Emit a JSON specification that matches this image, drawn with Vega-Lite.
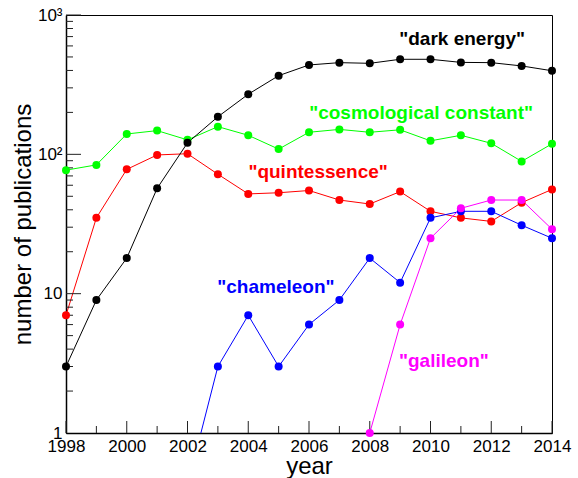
{
  "$schema": "https://vega.github.io/schema/vega-lite/v6.json",
  "width": 486,
  "height": 418,
  "autosize": "none",
  "padding": {"left": 66, "top": 15, "right": 26, "bottom": 45},
  "background": "white",
  "config": {
    "view": {"stroke": "#000", "strokeWidth": 1},
    "font": "Liberation Sans"
  },
  "datasets": {
    "pubs": [
      {"series": "cosmological constant", "year": 1998, "count": 77},
      {"series": "cosmological constant", "year": 1999, "count": 84},
      {"series": "cosmological constant", "year": 2000, "count": 140},
      {"series": "cosmological constant", "year": 2001, "count": 148},
      {"series": "cosmological constant", "year": 2002, "count": 127},
      {"series": "cosmological constant", "year": 2003, "count": 158},
      {"series": "cosmological constant", "year": 2004, "count": 137},
      {"series": "cosmological constant", "year": 2005, "count": 109},
      {"series": "cosmological constant", "year": 2006, "count": 144},
      {"series": "cosmological constant", "year": 2007, "count": 151},
      {"series": "cosmological constant", "year": 2008, "count": 144},
      {"series": "cosmological constant", "year": 2009, "count": 150},
      {"series": "cosmological constant", "year": 2010, "count": 125},
      {"series": "cosmological constant", "year": 2011, "count": 137},
      {"series": "cosmological constant", "year": 2012, "count": 120},
      {"series": "cosmological constant", "year": 2013, "count": 89},
      {"series": "cosmological constant", "year": 2014, "count": 119},
      {"series": "quintessence", "year": 1998, "count": 7},
      {"series": "quintessence", "year": 1999, "count": 35},
      {"series": "quintessence", "year": 2000, "count": 78},
      {"series": "quintessence", "year": 2001, "count": 99},
      {"series": "quintessence", "year": 2002, "count": 101},
      {"series": "quintessence", "year": 2003, "count": 72},
      {"series": "quintessence", "year": 2004, "count": 52},
      {"series": "quintessence", "year": 2005, "count": 53},
      {"series": "quintessence", "year": 2006, "count": 55},
      {"series": "quintessence", "year": 2007, "count": 47},
      {"series": "quintessence", "year": 2008, "count": 44},
      {"series": "quintessence", "year": 2009, "count": 54},
      {"series": "quintessence", "year": 2010, "count": 39},
      {"series": "quintessence", "year": 2011, "count": 35},
      {"series": "quintessence", "year": 2012, "count": 33},
      {"series": "quintessence", "year": 2013, "count": 45},
      {"series": "quintessence", "year": 2014, "count": 56},
      {"series": "chameleon", "year": 2002, "count": 0.42},
      {"series": "chameleon", "year": 2003, "count": 3},
      {"series": "chameleon", "year": 2004, "count": 7},
      {"series": "chameleon", "year": 2005, "count": 3},
      {"series": "chameleon", "year": 2006, "count": 6},
      {"series": "chameleon", "year": 2007, "count": 9},
      {"series": "chameleon", "year": 2008, "count": 18},
      {"series": "chameleon", "year": 2009, "count": 12},
      {"series": "chameleon", "year": 2010, "count": 35},
      {"series": "chameleon", "year": 2011, "count": 39},
      {"series": "chameleon", "year": 2012, "count": 39},
      {"series": "chameleon", "year": 2013, "count": 31},
      {"series": "chameleon", "year": 2014, "count": 25},
      {"series": "galileon", "year": 2008, "count": 1},
      {"series": "galileon", "year": 2009, "count": 6},
      {"series": "galileon", "year": 2010, "count": 25},
      {"series": "galileon", "year": 2011, "count": 41},
      {"series": "galileon", "year": 2012, "count": 47},
      {"series": "galileon", "year": 2013, "count": 47},
      {"series": "galileon", "year": 2014, "count": 29},
      {"series": "dark energy", "year": 1998, "count": 3},
      {"series": "dark energy", "year": 1999, "count": 9},
      {"series": "dark energy", "year": 2000, "count": 18},
      {"series": "dark energy", "year": 2001, "count": 57},
      {"series": "dark energy", "year": 2002, "count": 121},
      {"series": "dark energy", "year": 2003, "count": 186},
      {"series": "dark energy", "year": 2004, "count": 270},
      {"series": "dark energy", "year": 2005, "count": 367},
      {"series": "dark energy", "year": 2006, "count": 438},
      {"series": "dark energy", "year": 2007, "count": 455},
      {"series": "dark energy", "year": 2008, "count": 450},
      {"series": "dark energy", "year": 2009, "count": 481},
      {"series": "dark energy", "year": 2010, "count": 481},
      {"series": "dark energy", "year": 2011, "count": 457},
      {"series": "dark energy", "year": 2012, "count": 455},
      {"series": "dark energy", "year": 2013, "count": 431},
      {"series": "dark energy", "year": 2014, "count": 398}
    ],
    "labels": [
      {"series": "dark energy", "year": 2011.04, "count": 673, "label": "\"dark energy\""},
      {"series": "cosmological constant", "year": 2009.69, "count": 198, "label": "\"cosmological constant\""},
      {"series": "quintessence", "year": 2006.3, "count": 74.7, "label": "\"quintessence\""},
      {"series": "chameleon", "year": 2004.91, "count": 11.2, "label": "\"chameleon\""},
      {"series": "galileon", "year": 2010.44, "count": 3.29, "label": "\"galileon\""}
    ],
    "xMajor": [{"year": 1998}, {"year": 2000}, {"year": 2002}, {"year": 2004}, {"year": 2006}, {"year": 2008}, {"year": 2010}, {"year": 2012}, {"year": 2014}],
    "xMinor": [{"year": 1999}, {"year": 2001}, {"year": 2003}, {"year": 2005}, {"year": 2007}, {"year": 2009}, {"year": 2011}, {"year": 2013}],
    "yMajor": [{"count": 10}, {"count": 100}, {"count": 1000}],
    "yMinor": [{"count": 2}, {"count": 3}, {"count": 4}, {"count": 5}, {"count": 6}, {"count": 7}, {"count": 8}, {"count": 9}, {"count": 20}, {"count": 30}, {"count": 40}, {"count": 50}, {"count": 60}, {"count": 70}, {"count": 80}, {"count": 90}, {"count": 200}, {"count": 300}, {"count": 400}, {"count": 500}, {"count": 600}, {"count": 700}, {"count": 800}, {"count": 900}]
  },
  "layer": [
    {
      "data": {"name": "pubs"},
      "mark": {"type": "line", "clip": true, "strokeWidth": 1},
      "encoding": {
        "x": {
          "field": "year", "type": "quantitative",
          "scale": {"domain": [1998, 2014], "nice": false, "zero": false},
          "axis": {
            "orient": "bottom", "grid": false,
            "values": [1998, 2000, 2002, 2004, 2006, 2008, 2010, 2012, 2014],
            "format": "d", "ticks": false, "domainWidth": 1.5, "domainColor": "#000",
            "labelFont": "Liberation Sans", "labelColor": "#000",
            "labelFontSize": 17, "labelPadding": 5, "labelOverlap": false, "labelFlush": false, "labelBound": false,
            "title": "year", "titleFont": "Liberation Sans", "titleColor": "#000", "titleFontSize": 24, "titleFontWeight": "normal",
            "titleX": 243, "titleY": 40, "titleBaseline": "alphabetic", "titleAlign": "center"
          }
        },
        "y": {
          "field": "count", "type": "quantitative",
          "scale": {"type": "log", "domain": [1, 1000], "nice": false},
          "axis": {
            "orient": "left", "grid": false,
            "values": [1, 10, 100, 1000],
            "labelExpr": "datum.value == 1000 ? '10³' : datum.value == 100 ? '10²' : datum.value == 10 ? '10' : '1'",
            "ticks": false, "domainWidth": 1.5, "domainColor": "#000",
            "labelFont": "Liberation Sans", "labelColor": "#000",
            "labelFontSize": 17, "labelPadding": 4, "labelOverlap": false, "labelFlush": false, "labelBound": false,
            "title": "number of publications", "titleFont": "Liberation Sans", "titleColor": "#000", "titleFontSize": 24, "titleFontWeight": "normal",
            "titleX": -43, "titleY": 209, "titleAngle": -90, "titleBaseline": "middle", "titleAlign": "center"
          }
        },
        "color": {
          "field": "series", "type": "nominal",
          "scale": {"domain": ["cosmological constant", "quintessence", "chameleon", "galileon", "dark energy"], "range": ["#00ff00", "#ff0000", "#0000ff", "#ff00ff", "#000000"]},
          "legend": null
        }
      }
    },
    {
      "data": {"name": "xMajor"},
      "mark": {"type": "tick", "orient": "vertical", "size": 12, "thickness": 1, "yOffset": -6, "color": "#222", "opacity": 1},
      "encoding": {
        "x": {"field": "year", "type": "quantitative", "axis": null},
        "y": {"datum": 1, "type": "quantitative", "axis": null}
      }
    },
    {
      "data": {"name": "xMinor"},
      "mark": {"type": "tick", "orient": "vertical", "size": 7, "thickness": 1, "yOffset": -3.5, "color": "#222", "opacity": 1},
      "encoding": {
        "x": {"field": "year", "type": "quantitative", "axis": null},
        "y": {"datum": 1, "type": "quantitative", "axis": null}
      }
    },
    {
      "data": {"name": "yMajor"},
      "mark": {"type": "tick", "orient": "horizontal", "size": 15, "thickness": 1, "xOffset": 7.5, "color": "#222", "opacity": 1},
      "encoding": {
        "y": {"field": "count", "type": "quantitative", "axis": null},
        "x": {"datum": 1998, "type": "quantitative", "axis": null}
      }
    },
    {
      "data": {"name": "yMinor"},
      "mark": {"type": "tick", "orient": "horizontal", "size": 7, "thickness": 1, "xOffset": 3.5, "color": "#222", "opacity": 1},
      "encoding": {
        "y": {"field": "count", "type": "quantitative", "axis": null},
        "x": {"datum": 1998, "type": "quantitative", "axis": null}
      }
    },
    {
      "data": {"name": "pubs"},
      "transform": [{"filter": "datum.count >= 1"}],
      "mark": {"type": "circle", "size": 64, "opacity": 1},
      "encoding": {
        "x": {"field": "year", "type": "quantitative", "axis": null},
        "y": {"field": "count", "type": "quantitative", "axis": null},
        "color": {"field": "series", "type": "nominal", "legend": null}
      }
    },
    {
      "data": {"name": "labels"},
      "mark": {"type": "text", "font": "Liberation Sans", "fontSize": 19, "fontWeight": "bold", "align": "center", "baseline": "middle"},
      "encoding": {
        "x": {"field": "year", "type": "quantitative", "axis": null},
        "y": {"field": "count", "type": "quantitative", "axis": null},
        "text": {"field": "label"},
        "color": {"field": "series", "type": "nominal", "legend": null}
      }
    }
  ],
  "resolve": {"axis": {"x": "independent", "y": "independent"}}
}
